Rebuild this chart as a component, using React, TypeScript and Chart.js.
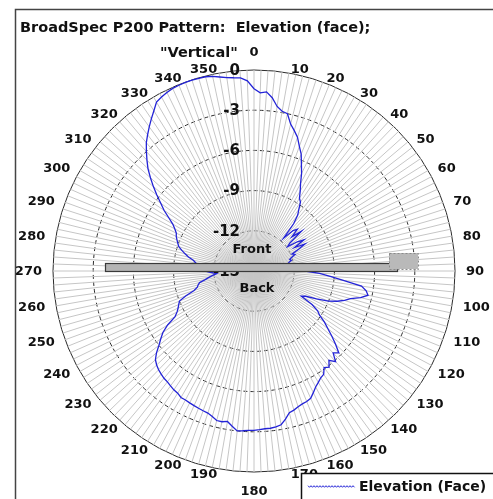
import React, { useEffect, useRef } from 'react';
import { Chart, registerables } from 'chart.js';

Chart.register(...registerables);

const TITLE_LINE1 = 'BroadSpec P200 Pattern:  Elevation (face);';
const TITLE_LINE2 = '"Vertical"';
const SERIES_NAME = 'Elevation (Face)';
const FRONT_TEXT = 'Front';
const BACK_TEXT = 'Back';

// category angles (degrees), one every 2 degrees
const ANGLES: string[] = [
  '0','2','4','6','8','10','12','14','16','18','20','22','24','26','28','30','32','34','36','38',
  '40','42','44','46','48','50','52','54','56','58','60','62','64','66','68','70','72','74','76','78',
  '80','82','84','86','88','90','92','94','96','98','100','102','104','106','108','110','112','114','116','118',
  '120','122','124','126','128','130','132','134','136','138','140','142','144','146','148','150','152','154','156','158',
  '160','162','164','166','168','170','172','174','176','178','180','182','184','186','188','190','192','194','196','198',
  '200','202','204','206','208','210','212','214','216','218','220','222','224','226','228','230','232','234','236','238',
  '240','242','244','246','248','250','252','254','256','258','260','262','264','266','268','270','272','274','276','278',
  '280','282','284','286','288','290','292','294','296','298','300','302','304','306','308','310','312','314','316','318',
  '320','322','324','326','328','330','332','334','336','338','340','342','344','346','348','350','352','354','356','358',
];

// relative level in dB, one value per angle above
const ELEVATION: number[] = [
  -1.4, -1.7, -1.6, -2.0, -2.6, -2.9, -3.0, -3.7, -4.1, -4.5,
  -5.1, -5.6, -6.3, -6.9, -7.6, -8.1, -8.6, -8.8, -9.3, -9.7,
  -10.4, -11.7, -10.8, -10.5, -11.2, -10.4, -11.6, -11.9, -11.1, -10.6,
  -11.5, -10.7, -11.3, -11.9, -11.7, -12.0, -12.2, -12.1, -12.3, -12.4,
  -12.4, -12.3, -12.2, -12.0, -11.8, -11.2, -10.1, -9.3, -8.3, -6.9,
  -6.5, -6.3, -6.8, -7.5, -7.9, -8.4, -9.0, -9.9, -10.7, -11.0,
  -10.0, -9.4, -9.1, -8.5, -8.0, -7.4, -6.8, -6.2, -6.5, -5.9,
  -6.3, -5.9, -6.1, -5.7, -5.6, -5.4, -5.2, -4.9, -4.6, -4.5,
  -4.45, -4.35, -4.2, -4.1, -3.7, -3.35, -3.25, -3.2, -3.2, -3.15,
  -3.1, -3.1, -3.05, -3.0, -3.3, -3.6, -3.5, -3.5, -3.7, -3.85,
  -3.9, -3.95, -4.0, -4.05, -4.1, -4.1, -4.25, -4.3, -4.4, -4.5,
  -4.55, -4.65, -4.75, -4.9, -5.1, -5.5, -6.0, -6.4, -6.8, -7.4,
  -8.2, -8.5, -8.7, -8.85, -9.0, -9.6, -10.3, -10.6, -10.7, -10.85,
  -11.3, -11.6, -11.9, -12.2, -11.8, -11.3, -11.1, -11.0, -10.8, -10.6,
  -10.4, -10.0, -9.7, -9.4, -9.1, -8.95, -8.8, -8.65, -8.55, -8.3,
  -8.0, -7.5, -6.9, -6.4, -5.8, -5.2, -4.6, -4.0, -3.5, -3.0,
  -2.5, -2.1, -1.7, -1.3, -0.9, -0.45, -0.3, -0.17, -0.08, -0.05,
  -0.02, -0.03, -0.05, -0.06, -0.15, -0.3, -0.42, -0.5, -0.55, -0.8,
];

// angle tick labels every 10 degrees
const ANGLE_TICKS: string[] = [
  '0','10','20','30','40','50','60','70','80','90','100','110',
  '120','130','140','150','160','170','180','190','200','210','220','230',
  '240','250','260','270','280','290','300','310','320','330','340','350',
];

// ring (dB) tick labels
const RING_TICKS: number[] = [0, -3, -6, -9, -12, -15];

const LINE_COLOR = 'rgb(35,35,215)';
const FONT = '"DejaVu Sans", Verdana, sans-serif';

const decor = {
  id: 'decor',
  afterDatasetsDraw(chart: any) {
    const ctx: CanvasRenderingContext2D = chart.ctx;
    const s: any = chart.scales.r;
    const cx = s.xCenter;
    const cy = s.yCenter;
    ctx.save();
    // ring labels
    ctx.font = `bold 15px ${FONT}`;
    ctx.fillStyle = '#111';
    ctx.textAlign = 'right';
    ctx.textBaseline = 'middle';
    RING_TICKS.forEach((v) => {
      const d = s.getDistanceFromCenterForValue(v);
      ctx.fillText(String(v), cx - 14, cy - d + 1);
    });
    // Front / Back
    ctx.font = `bold 13px ${FONT}`;
    ctx.textAlign = 'center';
    ctx.fillText(FRONT_TEXT, cx - 2, cy - 21);
    ctx.fillText(BACK_TEXT, cx + 3, cy + 18);
    // device bar
    ctx.fillStyle = '#b4b4b4';
    ctx.fillRect(cx - 149, cy - 8, 292, 8);
    ctx.strokeStyle = '#3a3a3a';
    ctx.lineWidth = 1.2;
    ctx.strokeRect(cx - 149 + 0.5, cy - 8 + 0.5, 292, 8);
    // end box
    ctx.fillStyle = '#b9b9b9';
    ctx.fillRect(cx + 135, cy - 18, 29, 16);
    ctx.setLineDash([2, 2]);
    ctx.strokeStyle = '#8a8a8a';
    ctx.lineWidth = 1;
    ctx.strokeRect(cx + 135.5, cy - 17.5, 29, 16);
    ctx.restore();
  },
  afterDraw(chart: any) {
    const ctx: CanvasRenderingContext2D = chart.ctx;
    const s: any = chart.scales.r;
    const cx = s.xCenter;
    const cy = s.yCenter;
    ctx.save();
    // angle labels
    ctx.font = `bold 13px ${FONT}`;
    ctx.fillStyle = '#111';
    ctx.textAlign = 'center';
    ctx.textBaseline = 'middle';
    const step = ANGLES.length / ANGLE_TICKS.length;
    ANGLE_TICKS.forEach((t, i) => {
      const p = s.getPointPosition(i * step, 1);
      const ux = p.x - cx;
      const uy = p.y - cy;
      const w = ctx.measureText(t).width;
      const sgn = Math.abs(ux) < 0.01 ? 0 : Math.sign(ux);
      const x = cx + ux * 212 + sgn * w / 2;
      const y = cy + uy * 206 + (sgn === 0 ? uy * 13.5 : 0);
      ctx.fillText(t, x, y + 1);
    });
    // title
    ctx.font = `bold 14.5px ${FONT}`;
    ctx.textAlign = 'left';
    ctx.textBaseline = 'alphabetic';
    ctx.fillText(TITLE_LINE1, 20, 31.5);
    ctx.fillText(TITLE_LINE2, 160, 56.5);
    // frame
    ctx.strokeStyle = '#444';
    ctx.lineWidth = 1.5;
    ctx.beginPath();
    ctx.moveTo(15.5, 505);
    ctx.lineTo(15.5, 9.5);
    ctx.lineTo(500, 9.5);
    ctx.stroke();
    // legend
    ctx.fillStyle = '#fff';
    ctx.fillRect(301, 473, 200, 40);
    ctx.strokeStyle = '#111';
    ctx.lineWidth = 1.5;
    ctx.strokeRect(301.5, 473.5, 200, 40);
    ctx.strokeStyle = LINE_COLOR;
    ctx.lineWidth = 1;
    ctx.beginPath();
    let k = 0;
    for (let x = 308; x <= 355; x += 1.5) {
      const y = 486.5 + (k % 2 === 0 ? -0.8 : 0.8);
      if (k === 0) ctx.moveTo(x, y); else ctx.lineTo(x, y);
      k++;
    }
    ctx.stroke();
    ctx.fillStyle = '#111';
    ctx.font = `bold 14px ${FONT}`;
    ctx.textBaseline = 'middle';
    ctx.fillText(SERIES_NAME, 359, 487.5);
    ctx.restore();
  },
};

export default function App() {
  const ref = useRef<HTMLCanvasElement>(null);
  useEffect(() => {
    if (!ref.current) return;
    const chart = new Chart(ref.current, {
      type: 'radar',
      data: {
        labels: ANGLES,
        datasets: [
          {
            label: SERIES_NAME,
            data: ELEVATION,
            borderColor: LINE_COLOR,
            backgroundColor: LINE_COLOR,
            borderWidth: 1.3,
            pointRadius: 0,
            fill: false,
            tension: 0,
          },
        ],
      },
      options: {
        animation: false,
        responsive: true,
        maintainAspectRatio: false,
        layout: { padding: { left: 53, right: 37, top: 70, bottom: 26 } },
        plugins: {
          legend: { display: false },
          tooltip: { enabled: false },
          title: { display: false },
        },
        scales: {
          r: {
            min: -15,
            max: 0,
            startAngle: 0,
            ticks: { display: false, stepSize: 3 },
            pointLabels: { display: false },
            angleLines: { display: true, color: '#c6c6c6', lineWidth: 1 },
            grid: { circular: true, color: '#2a2a2a', lineWidth: 1 },
            border: { dash: (c: any) => (c.tick && c.tick.value === 0 ? [] : [4, 3]) },
          },
        },
      } as any,
      plugins: [decor],
    });
    return () => chart.destroy();
  }, []);
  return (
    <div style={{ position: 'absolute', left: 0, top: 0, width: 493, height: 499, background: '#fff' }}>
      <canvas ref={ref} style={{ display: 'block' }} />
    </div>
  );
}
